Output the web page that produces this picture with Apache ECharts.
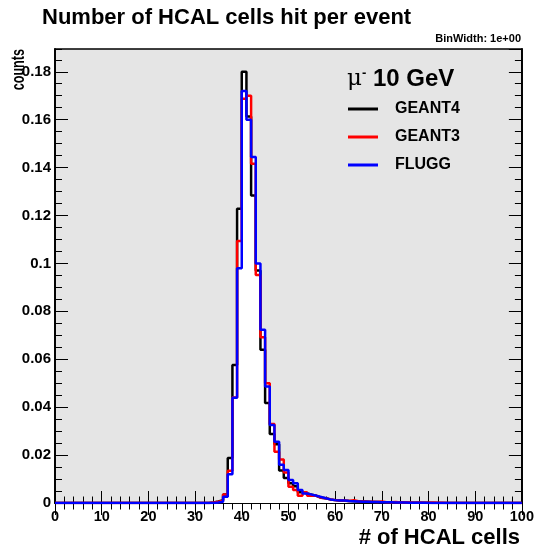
<!DOCTYPE html>
<html>
<head>
<meta charset="utf-8">
<script src="https://cdn.jsdelivr.net/npm/echarts@6/dist/echarts.min.js"></script>
<style>
  html, body { margin: 0; padding: 0; background: #fff; }
  #chart { width: 537px; height: 550px; }
</style>
</head>
<body>
<div id="chart"></div>
<script>
// Histogram: number of HCAL cells hit per event, 1-unit bins from 0 to 100.
const nBins = 100;
const firstBin = 33; // bins below this one are empty

// Normalised counts per bin, starting at firstBin
const geant4 = [
  0.0002, 0.0006, 0.0012, 0.0035, 0.0188, 0.0576, 0.1228, 0.1800, 0.1613, 0.1284,
  0.0970, 0.0640, 0.0417, 0.0288, 0.0245, 0.0136, 0.0104, 0.0082, 0.0070, 0.0045,
  0.0040, 0.0035, 0.0030, 0.0022, 0.0020, 0.0015, 0.0012, 0.0010, 0.0009, 0.0008,
  0.0007, 0.0006, 0.0006, 0.0005, 0.0004, 0.0004, 0.0003, 0.0003, 0.0003, 0.0002,
  0.0002, 0.0002, 0.0001, 0.0001, 0.0001, 0.0001, 0.0001
];
const geant3 = [
  0.0002, 0.0005, 0.0010, 0.0035, 0.0135, 0.0440, 0.1094, 0.1687, 0.1700, 0.1416,
  0.0952, 0.0692, 0.0500, 0.0330, 0.0214, 0.0182, 0.0127, 0.0068, 0.0054, 0.0030,
  0.0045, 0.0030, 0.0030, 0.0022, 0.0020, 0.0015, 0.0012, 0.0010, 0.0010, 0.0008,
  0.0012, 0.0007, 0.0006, 0.0005, 0.0005, 0.0004, 0.0006, 0.0003, 0.0003, 0.0004,
  0.0002, 0.0003, 0.0002, 0.0001, 0.0002, 0.0001, 0.0001, 0.0002, 0.0001, 0.0001
];
const flugg = [
  0.0000, 0.0002, 0.0005, 0.0026, 0.0120, 0.0439, 0.0980, 0.1720, 0.1600, 0.1444,
  0.1000, 0.0723, 0.0486, 0.0326, 0.0256, 0.0160, 0.0138, 0.0096, 0.0082, 0.0054,
  0.0040, 0.0035, 0.0030, 0.0025, 0.0020, 0.0015, 0.0012, 0.0010, 0.0010, 0.0008,
  0.0007, 0.0006, 0.0005, 0.0005, 0.0004, 0.0004, 0.0003, 0.0003, 0.0003, 0.0002,
  0.0002, 0.0002, 0.0001, 0.0001, 0.0001, 0.0001
];

const xTicks = [0, 10, 20, 30, 40, 50, 60, 70, 80, 90, 100];
const yTicks = [0, 0.02, 0.04, 0.06, 0.08, 0.1, 0.12, 0.14, 0.16, 0.18];

const xMin = xTicks[0], xMax = xTicks[xTicks.length - 1];
const yMin = 0, yMax = 0.1895;

// Expand a partial bin list into step points [lowEdge, value] plus the closing edge
function stepPoints(values) {
  const full = new Array(nBins).fill(0);
  values.forEach((v, i) => { if (firstBin + i < nBins) full[firstBin + i] = v; });
  const pts = full.map((v, i) => [i, v]);
  pts.push([nBins, full[nBins - 1]]);
  return pts;
}

const hists = [
  { name: 'GEANT4', color: '#000000', values: geant4 },
  { name: 'GEANT3', color: '#ff0000', values: geant3 },
  { name: 'FLUGG',  color: '#0000ff', values: flugg }
];

const font = '"Liberation Sans", Arial, Helvetica, sans-serif';

// White fills go underneath every outline so all outlines stay visible
const fillSeries = hists.map(h => ({
  name: h.name + ' fill',
  type: 'line',
  step: 'end',
  data: stepPoints(h.values),
  symbol: 'none',
  lineStyle: { width: 0 },
  areaStyle: { color: '#ffffff', opacity: 1 },
  z: 1,
  silent: true
}));
const lineSeries = hists.map(h => ({
  name: h.name,
  type: 'line',
  step: 'end',
  data: stepPoints(h.values),
  symbol: 'none',
  color: h.color,
  itemStyle: { color: h.color },
  lineStyle: { color: h.color, width: 2.5 },
  z: 3
}));

const frameLine = { show: true, lineStyle: { color: '#000', width: 1.5 } };

function xAxisDef(pos, labels) {
  return {
    type: 'value', position: pos, min: xMin, max: xMax, interval: 10,
    axisLine: frameLine,
    axisTick: { show: true, inside: true, length: 12, lineStyle: { color: '#000', width: 1 } },
    minorTick: { show: true, splitNumber: 5, length: 6.5, lineStyle: { color: '#000', width: 1 } },
    splitLine: { show: false },
    axisLabel: labels ? {
      show: true, margin: 6, color: '#000', fontFamily: font, fontWeight: 'bold', fontSize: 14.5
    } : { show: false }
  };
}
function yAxisDef(pos, major, labels) {
  return {
    type: 'value', position: pos, min: yMin, max: yMax, interval: major ? 0.02 : 0.005,
    axisLine: frameLine,
    axisTick: { show: true, inside: true, length: major ? 13 : 7, lineStyle: { color: '#000', width: 1 } },
    splitLine: { show: false },
    axisLabel: labels ? {
      show: true, margin: 4, color: '#000', fontFamily: font, fontWeight: 'bold', fontSize: 15,
      showMaxLabel: false,
      formatter: v => (yTicks.some(t => Math.abs(t - v) < 1e-9) ? String(+v.toFixed(2)) : '')
    } : { show: false }
  };
}

const chart = echarts.init(document.getElementById('chart'), null, { renderer: 'canvas' });
chart.setOption({
  animation: false,
  backgroundColor: '#ffffff',
  textStyle: { fontFamily: font },
  grid: {
    left: 55, right: 15, top: 49, bottom: 47,
    show: true, backgroundColor: '#e5e5e5', borderColor: '#000', borderWidth: 1.5
  },
  title: [
    {
      text: 'Number of HCAL cells hit per event', left: 42, top: 7, padding: 0,
      textStyle: { fontFamily: font, fontWeight: 'bold', fontSize: 22, color: '#000' }
    },
    {
      text: 'BinWidth: 1e+00', right: 16, top: 33, padding: 0,
      textStyle: { fontFamily: font, fontWeight: 'bold', fontSize: 11, color: '#000' }
    },
    {
      text: '# of HCAL cells', right: 17, top: 527, padding: 0,
      textStyle: { fontFamily: font, fontWeight: 'bold', fontSize: 22, color: '#000' }
    },
    {
      text: '{mu|\u03bc}{sup|-} 10 GeV', left: 347, top: 67, padding: 0,
      textStyle: {
        fontFamily: font, fontWeight: 'bold', fontSize: 24, color: '#000',
        rich: {
          mu: { fontFamily: '"DejaVu Serif", "Liberation Serif", serif', fontWeight: 'normal', fontSize: 23, color: '#000' },
          sup: { fontFamily: font, fontWeight: 'bold', fontSize: 13, verticalAlign: 'top', padding: [0, 0, 12, 0], color: '#000' }
        }
      }
    }
  ],
  legend: {
    data: hists.map(h => h.name),
    orient: 'vertical', left: 348, top: 101, padding: 0,
    icon: 'rect', itemWidth: 30, itemHeight: 3, itemGap: 12,
    textStyle: { fontFamily: font, fontWeight: 'bold', fontSize: 16, color: '#000', padding: [0, 0, 0, 12] },
    selectedMode: false
  },
  graphic: [
    {
      type: 'text', x: 19, y: 49, rotation: Math.PI / 2, scaleX: 0.7,
      style: {
        text: 'counts', fill: '#000', font: 'bold 18px ' + font,
        align: 'right', verticalAlign: 'middle'
      }
    }
  ],
  xAxis: [xAxisDef('bottom', true), xAxisDef('top', false)],
  yAxis: [
    yAxisDef('left', true, true), yAxisDef('left', false, false),
    yAxisDef('right', true, false), yAxisDef('right', false, false)
  ],
  series: [...fillSeries, ...lineSeries]
});
</script>
</body>
</html>
